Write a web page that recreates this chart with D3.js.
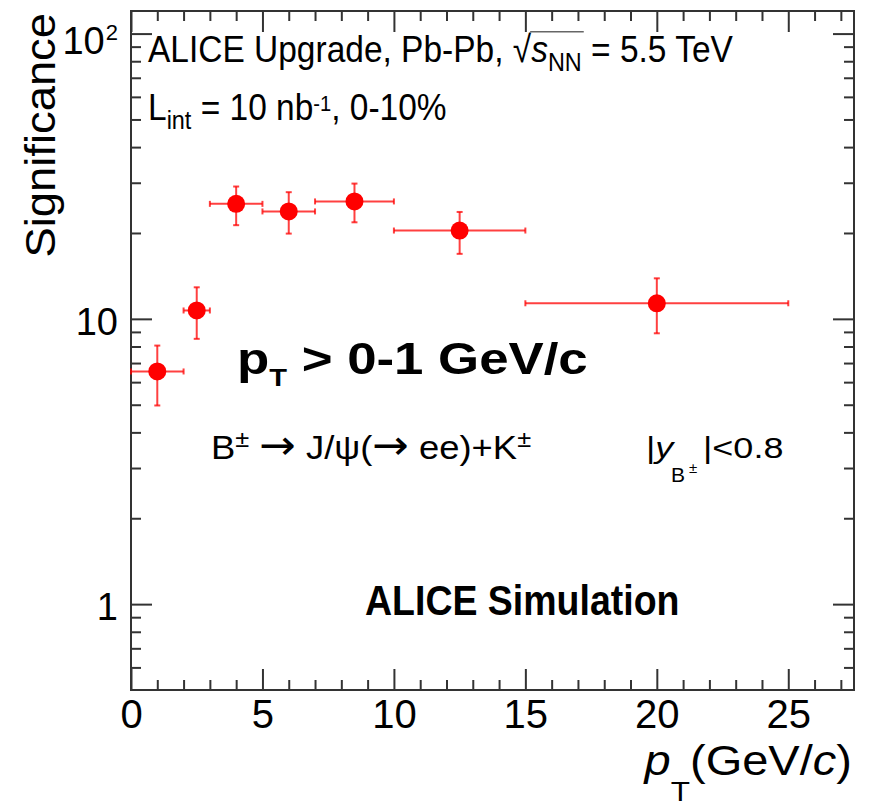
<!DOCTYPE html>
<html><head><meta charset="utf-8">
<script src="https://cdn.jsdelivr.net/npm/d3@7"></script>
<style>body{margin:0;background:#fff} svg{display:block}</style>
</head><body>
<script>
// B± -> J/psi K± significance per pT bin
const ptCenter = [1, 2.5, 4, 6, 8.5, 12.5, 20];
const binLow = [0, 2, 3, 5, 7, 10, 15];
const binHigh = [2, 3, 5, 7, 10, 15, 25];
const significance = [6.54, 10.7, 25.3, 23.8, 25.8, 20.4, 11.34];
const sigUpper = [8.06, 12.9, 29.1, 27.8, 29.8, 23.7, 13.87];
const sigLower = [4.97, 8.51, 21.3, 19.9, 21.8, 16.9, 8.9];
const xMajorTicks = [0, 5, 10, 15, 20, 25];
const yMajorTicks = [1, 10, 100];

const W = 875, H = 807;
const FONT = "'Liberation Sans', Arial, Helvetica, sans-serif";
const frame = {left: 131, right: 854, top: 11, bottom: 690};

const x = d3.scaleLinear().domain([0, 27.5]).range([frame.left, frame.right]);
const y = d3.scaleLog().domain([0.5, 120]).range([frame.bottom, frame.top]);

const xMinorTicks = d3.range(1, 28).filter(v => v % 5 !== 0);
const yMinorTicks = [0.6, 0.7, 0.8, 0.9]
  .concat(d3.range(2, 10), d3.range(20, 100, 10));

const svg = d3.select("body").append("svg")
  .attr("width", W).attr("height", H)
  .attr("font-family", FONT);

const axisColor = "#333";
function styleAxis(g) {
  g.select(".domain").remove();
  g.selectAll(".tick line").attr("stroke", axisColor).attr("stroke-width", 2);
  g.selectAll("text").attr("fill", "#000");
}

// bottom axis: inward ticks + labels
svg.append("g").attr("transform", `translate(0,${frame.bottom})`)
  .call(d3.axisBottom(x).tickValues(xMinorTicks).tickSize(-10).tickFormat(""))
  .call(styleAxis);
svg.append("g").attr("transform", `translate(0,${frame.bottom})`)
  .call(d3.axisBottom(x).tickValues(xMajorTicks).tickSize(-21).tickPadding(10).tickFormat(d3.format("d")))
  .call(styleAxis)
  .call(g => g.selectAll("text").attr("font-size", 40).attr("font-family", FONT));
// top axis
svg.append("g").attr("transform", `translate(0,${frame.top})`)
  .call(d3.axisTop(x).tickValues(xMinorTicks).tickSize(-10).tickFormat(""))
  .call(styleAxis);
svg.append("g").attr("transform", `translate(0,${frame.top})`)
  .call(d3.axisTop(x).tickValues(xMajorTicks).tickSize(-21).tickFormat(""))
  .call(styleAxis);
// left axis
svg.append("g").attr("transform", `translate(${frame.left},0)`)
  .call(d3.axisLeft(y).tickValues(yMinorTicks).tickSize(-10).tickFormat(""))
  .call(styleAxis);
const leftMajor = svg.append("g").attr("transform", `translate(${frame.left},0)`)
  .call(d3.axisLeft(y).tickValues(yMajorTicks).tickSize(-21).tickPadding(13)
    .tickFormat(d => d === 100 ? "10" : String(d)))
  .call(styleAxis);
leftMajor.selectAll("text").attr("font-size", 38).attr("font-family", FONT).attr("dy", "0.41em");
leftMajor.selectAll(".tick").filter(d => d === 100).select("text")
  .attr("dy", null).attr("y", 20)
  .append("tspan").text("2").attr("font-size", 22).attr("dy", -14).attr("dx", 1);
// right axis
svg.append("g").attr("transform", `translate(${frame.right},0)`)
  .call(d3.axisRight(y).tickValues(yMinorTicks).tickSize(-10).tickFormat(""))
  .call(styleAxis);
svg.append("g").attr("transform", `translate(${frame.right},0)`)
  .call(d3.axisRight(y).tickValues(yMajorTicks).tickSize(-21).tickFormat(""))
  .call(styleAxis);

// frame
svg.append("rect")
  .attr("x", frame.left).attr("y", frame.top)
  .attr("width", frame.right - frame.left).attr("height", frame.bottom - frame.top)
  .attr("fill", "none").attr("stroke", axisColor).attr("stroke-width", 2);

// text with sub/superscripts; parts shift baseline by s (em of base size)
function richText(x0, y0, parts, o) {
  const size = o.size;
  const g = svg.append("g")
    .attr("transform", `translate(${x0},${y0}) rotate(${o.rotate || 0}) scale(${o.sx || 1},${o.sy || 1})`);
  const t = g.append("text")
    .attr("font-size", size)
    .attr("font-weight", o.weight || "normal")
    .attr("text-anchor", o.anchor || "start")
    .attr("fill", "#000");
  let shift = 0;
  parts.forEach(p => {
    const s = p.s === undefined ? shift : p.s;
    const ts = t.append("tspan").text(p.t);
    if (s !== shift) ts.attr("dy", (s - shift) * size);
    shift = s;
    if (p.scale) ts.attr("font-size", size * p.scale);
    if (p.italic) ts.attr("font-style", "italic");
    if (p.dx) ts.attr("dx", p.dx);
    if (p.font) ts.attr("font-family", p.font);
  });
  return {g, t};
}

// header lines
const head = richText(148, 62, [
  {t: "ALICE Upgrade, Pb-Pb, "},
  {t: "\u221A"},
  {t: "s", italic: true},
  {t: "NN", scale: 0.7, s: 0.24},
  {t: " = 5.5 TeV", s: 0}
], {size: 33.5, sy: 1.12});
{
  const node = head.t.node();
  const i0 = "ALICE Upgrade, Pb-Pb, ".length;
  const a = node.getExtentOfChar(i0);
  const b = node.getExtentOfChar(i0 + 3);
  head.g.append("line")
    .attr("x1", a.x + a.width - 1).attr("x2", b.x + b.width + 2)
    .attr("y1", -27).attr("y2", -27)
    .attr("stroke", "#666").attr("stroke-width", 1.2);
}
richText(148, 120, [
  {t: "L"},
  {t: "int", scale: 0.7, s: 0.24},
  {t: " = 10 nb", s: 0},
  {t: "-1", scale: 0.6, s: -0.25},
  {t: ", 0-10%", s: 0}
], {size: 33.5, sy: 1.12});

// pT threshold annotation
richText(237, 374, [
  {t: "p"},
  {t: "T", scale: 0.55, s: 0.28},
  {t: " > 0-1 GeV/c", s: 0}
], {size: 44, weight: "bold", sx: 1.2});

// decay channel
const ARROW = "'DejaVu Sans', sans-serif";
richText(211, 459, [
  {t: "B"},
  {t: "\u00B1", scale: 0.7, s: -0.35},
  {t: " ", s: 0},
  {t: "\u2192", font: ARROW, scale: 1.2},
  {t: " J/\u03C8("},
  {t: "\u2192", font: ARROW, scale: 1.2},
  {t: " ee)+K"},
  {t: "\u00B1", scale: 0.7, s: -0.35}
], {size: 34, sx: 1.07});

// rapidity window
richText(646, 458, [{t: "|"}, {t: "y", italic: true}], {size: 30, sx: 1.2});
richText(671, 481.7, [{t: "B"}], {size: 21});
richText(689, 473, [{t: "\u00B1"}], {size: 15});
richText(703, 458, [{t: "|<0.8"}], {size: 30, sx: 1.2});

richText(365, 615, [{t: "ALICE Simulation"}], {size: 37.5, weight: "bold", sy: 1.12});

// axis titles
richText(55, 13, [{t: "Significance"}], {size: 42, anchor: "end", rotate: -90, sx: 1.08});
richText(852, 775, [
  {t: "p", italic: true},
  {t: "T", scale: 0.67, s: 0.63},
  {t: "(GeV/", s: 0},
  {t: "c", italic: true},
  {t: ")"}
], {size: 42, anchor: "end", sx: 1.12});

// data: error bars and markers
const red = "#ff0000";
const pts = ptCenter.map((c, i) => ({
  c, lo: binLow[i], hi: binHigh[i], v: significance[i], up: sigUpper[i], dn: sigLower[i]
}));
const gData = svg.append("g");
const bars = gData.selectAll("g.pt").data(pts).join("g").attr("class", "pt")
  .attr("stroke", red).attr("stroke-opacity", 0.75).attr("stroke-width", 2);
bars.append("line")
  .attr("x1", d => x(d.lo)).attr("x2", d => x(d.hi))
  .attr("y1", d => y(d.v)).attr("y2", d => y(d.v));
bars.append("line")
  .attr("x1", d => x(d.c)).attr("x2", d => x(d.c))
  .attr("y1", d => y(d.dn)).attr("y2", d => y(d.up));
// end caps
const cap = 3;
bars.each(function(d) {
  const g = d3.select(this);
  [d.lo, d.hi].forEach(v => g.append("line")
    .attr("x1", x(v)).attr("x2", x(v)).attr("y1", y(d.v) - cap).attr("y2", y(d.v) + cap));
  [d.dn, d.up].forEach(v => g.append("line")
    .attr("x1", x(d.c) - cap).attr("x2", x(d.c) + cap).attr("y1", y(v)).attr("y2", y(v)));
});
gData.selectAll("circle").data(pts).join("circle")
  .attr("cx", d => x(d.c)).attr("cy", d => y(d.v)).attr("r", 9)
  .attr("fill", red);
</script>
</body></html>
